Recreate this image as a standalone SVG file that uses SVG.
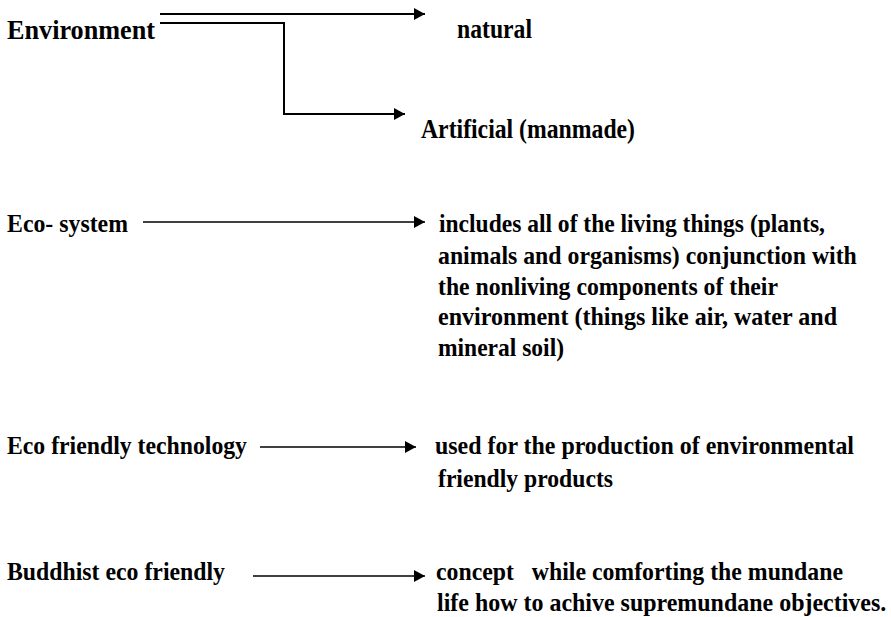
<svg xmlns="http://www.w3.org/2000/svg" width="891" height="617" viewBox="0 0 891 617">
<defs>
<marker id="ah" markerUnits="userSpaceOnUse" markerWidth="12" markerHeight="13" refX="11" refY="6.5" orient="auto">
<path d="M0,0.5 L11,6.5 L0,12.5 z" fill="#000"/>
</marker>
<style>
.conn{fill:none;stroke:#000}
</style>
</defs>
<rect width="891" height="617" fill="#fff"/>
<g id="connectors" fill="none" stroke="#000">
<path class="conn" stroke-width="2" d="M160,14 H425" marker-end="url(#ah)"/>
<path class="conn" stroke-width="2" d="M160,23 H284 V114 H405" marker-end="url(#ah)"/>
<path class="conn" stroke-width="1.6" d="M143,222 H425" marker-end="url(#ah)"/>
<path class="conn" stroke-width="1.6" d="M260,447 H416" marker-end="url(#ah)"/>
<path class="conn" stroke-width="1.6" d="M253,576 H425" marker-end="url(#ah)"/>
</g>
<g font-family="'Liberation Serif', 'Times New Roman', serif" font-weight="bold" fill="#000">
<g font-size="27">
<g id="environment"><text x="7" y="39" textLength="148" lengthAdjust="spacingAndGlyphs">Environment</text></g>
<g id="natural"><text x="457" y="38" textLength="75" lengthAdjust="spacingAndGlyphs">natural</text></g>
<g id="artificial"><text x="421" y="138" textLength="214" lengthAdjust="spacingAndGlyphs">Artificial (manmade)</text></g>
</g>
<g font-size="25">
<g id="ecosystem"><text x="7" y="232" textLength="121" lengthAdjust="spacingAndGlyphs">Eco- system</text></g>
<g id="ecosystem-desc">
<text x="439" y="232" textLength="386" lengthAdjust="spacingAndGlyphs">includes all of the living things (plants,</text>
<text transform="translate(438,264) scale(0.9516,1)">animals and organisms) conjunction with</text>
<text x="438" y="295" textLength="340" lengthAdjust="spacingAndGlyphs">the nonliving components of their</text>
<text x="438" y="325" textLength="399" lengthAdjust="spacingAndGlyphs">environment (things like air, water and</text>
<text x="438" y="356" textLength="126" lengthAdjust="spacingAndGlyphs">mineral soil)</text>
</g>
<g id="ecotech"><text x="7" y="454" textLength="240" lengthAdjust="spacingAndGlyphs">Eco friendly technology</text></g>
<g id="ecotech-desc">
<text x="435" y="454" textLength="419" lengthAdjust="spacingAndGlyphs">used for the production of environmental</text>
<text x="438" y="487" textLength="175" lengthAdjust="spacingAndGlyphs">friendly products</text>
</g>
<g id="buddhist"><text x="7" y="580" textLength="218" lengthAdjust="spacingAndGlyphs">Buddhist eco friendly</text></g>
<g id="buddhist-desc">
<text x="436" y="580" textLength="407" lengthAdjust="spacingAndGlyphs" xml:space="preserve">concept   while comforting the mundane</text>
<text transform="translate(437,611) scale(0.9587,1)">life how to achive supremundane objectives.</text>
</g>
</g>
</g>
</svg>
